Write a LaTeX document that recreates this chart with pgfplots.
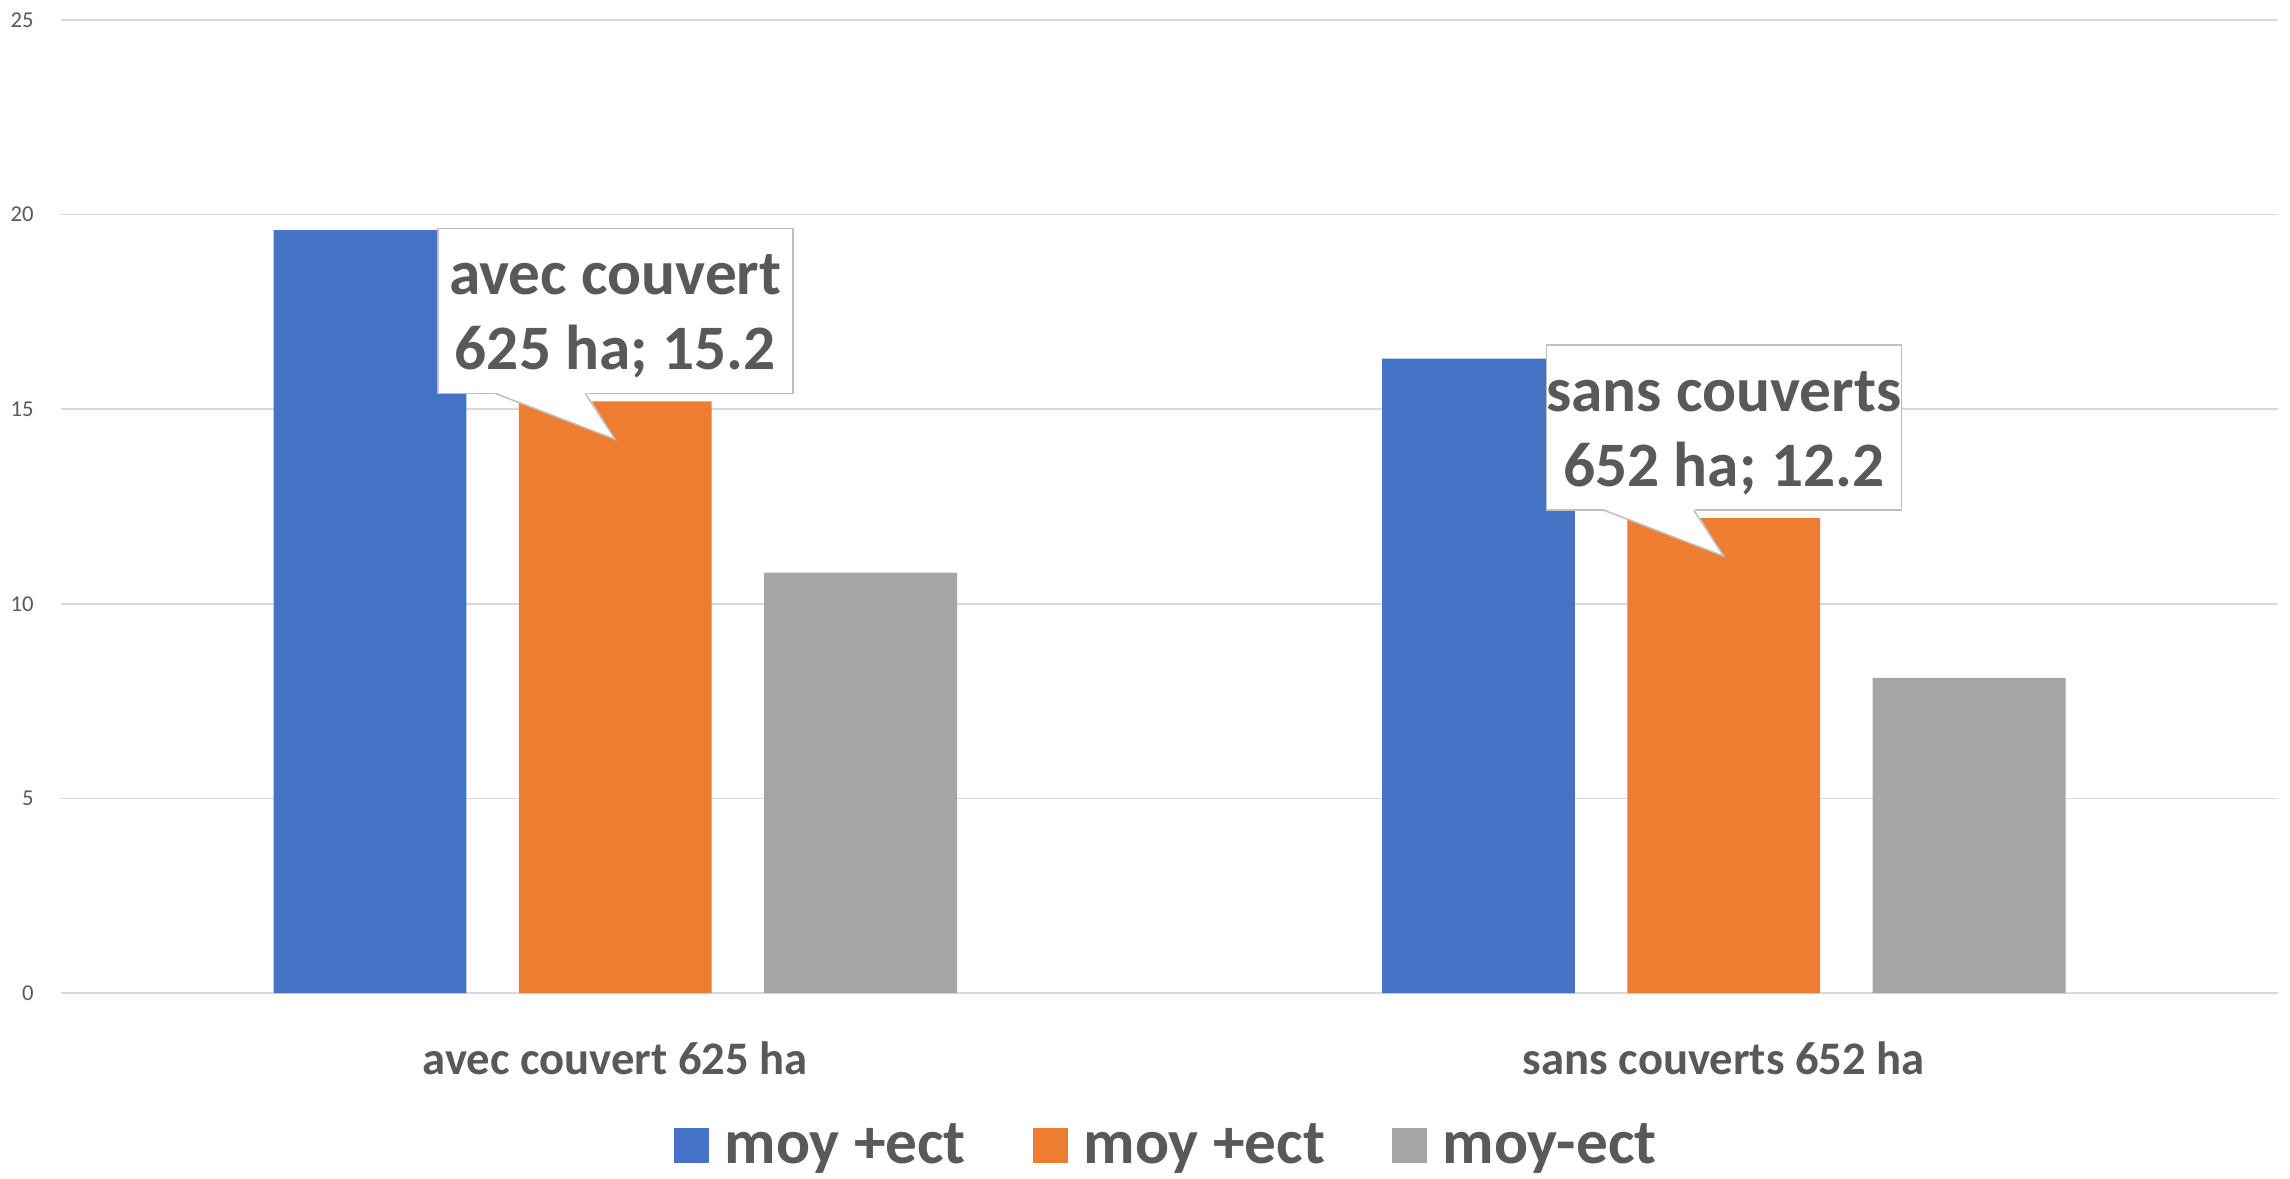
\documentclass[border=0pt]{standalone}
\usepackage{fontspec}
\setmainfont{Carlito}
\usepackage{pgfplots}
\pgfplotsset{compat=1.18}
\definecolor{cblue}{HTML}{4472C4}
\definecolor{corange}{HTML}{ED7D31}
\definecolor{cgray}{HTML}{A5A5A5}
\definecolor{txt}{HTML}{595959}
\definecolor{grid}{HTML}{D9D9D9}
\definecolor{callout}{HTML}{BFBFBF}

\begin{document}
\begin{tikzpicture}
\begin{axis}[
  name=ax, scale only axis,
  width=665.1pt, height=291.9pt,
  ybar, bar width=0.174,
  xmin=-0.5, xmax=1.5, ymin=0, ymax=25,
  xtick={0,1}, xticklabels={avec couvert 625 ha, sans couverts 652 ha},
  ytick={0,5,...,25},
  axis line style={draw=none}, major tick length=0pt,
  ymajorgrids=true, grid style={color=grid, line width=0.45pt},
  /pgf/number format/assume math mode=true,
  yticklabel style={font=\fontsize{6.8}{8}\selectfont, text=txt, xshift=-4.7pt},
  xticklabel style={font=\bfseries\fontsize{14}{16}\selectfont, text=txt, yshift=-11pt},
  legend style={at={(0.498,-0.157)}, anchor=center, draw=none,
    font=\bfseries\fontsize{19}{22}\selectfont, text=txt,
    legend columns=3, nodes={inner sep=0pt},
    /tikz/every odd column/.append style={column sep=4.8pt},
    /tikz/every even column/.append style={column sep=20pt}},
  legend image code/.code={\fill[#1] (0pt,-5.25pt) rectangle (10.5pt,5.25pt);},
]
\addplot[fill=cblue, draw=none, bar shift=-0.2213] coordinates {(0,19.6) (1,16.3)};
\addlegendentry{moy +ect}
\addplot[fill=corange, draw=none, bar shift=0] coordinates {(0,15.2) (1,12.2)};
\addlegendentry{moy +ect}
\addplot[fill=cgray, draw=none, bar shift=0.2213] coordinates {(0,10.8) (1,8.1)};
\addlegendentry{moy-ect}
\coordinate (t1) at (axis cs:0,15.2);
\coordinate (t2) at (axis cs:1,12.2);
\end{axis}

% callouts: box sits just above the bar top, pointer dips into the bar
\foreach \t/\la/\lb in {t1/{avec couvert}/{625 ha; 15.2}, t2/{sans couverts}/{652 ha; 12.2}}{
  \filldraw[fill=white, draw=callout, line width=0.45pt]
    ([shift={(-53.25pt,2.4pt)}]\t) rectangle ([shift={(53.25pt,51.9pt)}]\t);
  \fill[white] ([shift={(-36.2pt,2.8pt)}]\t) -- ([yshift=-11.4pt]\t) -- ([shift={(-8.8pt,2.8pt)}]\t) -- cycle;
  \draw[callout, line width=0.45pt] ([shift={(-36pt,2.4pt)}]\t) -- ([yshift=-11.4pt]\t) -- ([shift={(-9pt,2.4pt)}]\t);
  \node[anchor=base, inner sep=0pt, text=txt, font=\bfseries\fontsize{19}{22.5}\selectfont]
    at ([yshift=32pt]\t) {\la};
  \node[anchor=base, inner sep=0pt, text=txt, font=\bfseries\fontsize{19}{22.5}\selectfont]
    at ([yshift=9.6pt]\t) {\lb};
}

\pgfresetboundingbox
\path ([shift={(-18.3pt,-55.5pt)}]ax.south west) rectangle ([shift={(3.6pt,6pt)}]ax.north east);
\end{tikzpicture}
\end{document}
